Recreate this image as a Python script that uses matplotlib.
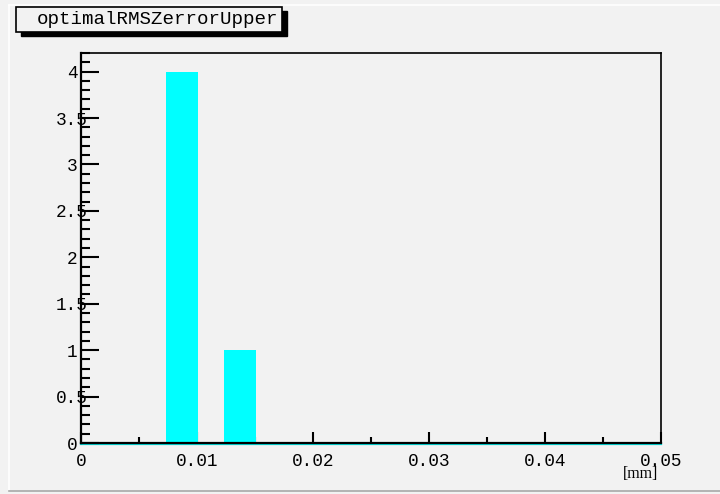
import matplotlib.pyplot as plt
import matplotlib as mpl
from matplotlib.patches import Rectangle
from matplotlib.lines import Line2D
from matplotlib.ticker import MultipleLocator, FormatStrFormatter
import matplotlib.transforms as mtransforms

# histogram data (bin edges in mm, counts)
bin_lo = [0.0073, 0.0123]
bin_hi = [0.0101, 0.0151]
counts = [4, 1]
title = 'optimalRMSZerrorUpper'
x_unit = '[mm]'
x_range = (0.0, 0.05)
y_range = (0.0, 4.2)

W, H = 720, 494
bg = '#f2f2f2'
mono = 'Liberation Mono'

mpl.rcParams.update({'font.family': mono, 'font.size': 12.8})

fig = plt.figure(figsize=(W / 100, H / 100), dpi=100, facecolor=bg)

def fx(px):
    return px / W

def fy(py):
    return (H - py) / H

ax = fig.add_axes([fx(81), fy(443), fx(661) - fx(81), fy(53) - fy(443)])
ax.set_facecolor(bg)

# bars
ax.bar(bin_lo, counts, width=[h - l for l, h in zip(bin_lo, bin_hi)],
       align='edge', color='#00ffff', edgecolor='none', zorder=2)
# histogram outline along zero, slightly under the axis
off = mtransforms.ScaledTranslation(0, -1.2 / 100, fig.dpi_scale_trans)
ax.plot(x_range, [0, 0], color='#00d8d8', lw=1.6, zorder=1,
        transform=ax.transData + off, clip_on=False)

ax.set_xlim(*x_range)
ax.set_ylim(*y_range)

ax.xaxis.set_major_locator(MultipleLocator(0.01))
ax.xaxis.set_minor_locator(MultipleLocator(0.005))
ax.yaxis.set_major_locator(MultipleLocator(0.5))
ax.yaxis.set_minor_locator(MultipleLocator(0.1))
ax.xaxis.set_major_formatter(FormatStrFormatter('%g'))
ax.yaxis.set_major_formatter(FormatStrFormatter('%g'))

ax.tick_params(axis='y', which='major', direction='in', length=13, width=1.5, pad=6.5,
               labelsize=12.8, colors='black')
ax.tick_params(axis='y', which='minor', direction='in', length=6.5, width=1.5)
ax.tick_params(axis='x', which='major', direction='in', length=8, width=1.5, pad=7,
               labelsize=12.8)
ax.tick_params(axis='x', which='minor', direction='in', length=4.3, width=1.5)
for lab in ax.get_yticklabels():
    lab.set_horizontalalignment('center')

for side in ['left', 'bottom']:
    ax.spines[side].set_linewidth(1.6)
for side in ['top', 'right']:
    ax.spines[side].set_linewidth(1.2)

fig.text(fx(658), fy(473.5), x_unit, ha='right', va='center',
         family='Liberation Serif', fontsize=11.4)

# canvas border lines
fig.add_artist(Line2D([fx(9), 1], [fy(5), fy(5)], color='white', lw=1.2))
fig.add_artist(Line2D([fx(9), fx(9)], [fy(5), fy(491)], color='white', lw=1.2))
fig.add_artist(Line2D([fx(9), 1], [fy(491), fy(491)], color='#a8a8a8', lw=1.2))

# title box with shadow
bx0, by0, bx1, by1 = 16, 7, 282, 32
fig.add_artist(Rectangle((fx(bx0 + 5), fy(by1 + 4)), fx(bx1 - bx0), fy(by0) - fy(by1),
                         transform=fig.transFigure, facecolor='black', edgecolor='black'))
fig.add_artist(Rectangle((fx(bx0), fy(by1)), fx(bx1 - bx0), fy(by0) - fy(by1),
                         transform=fig.transFigure, facecolor=bg, edgecolor='black', lw=1.2))
fig.text(fx(37), fy(20), title, ha='left', va='center', fontsize=13.8)

plt.savefig('out.png', dpi=100, facecolor=bg)
